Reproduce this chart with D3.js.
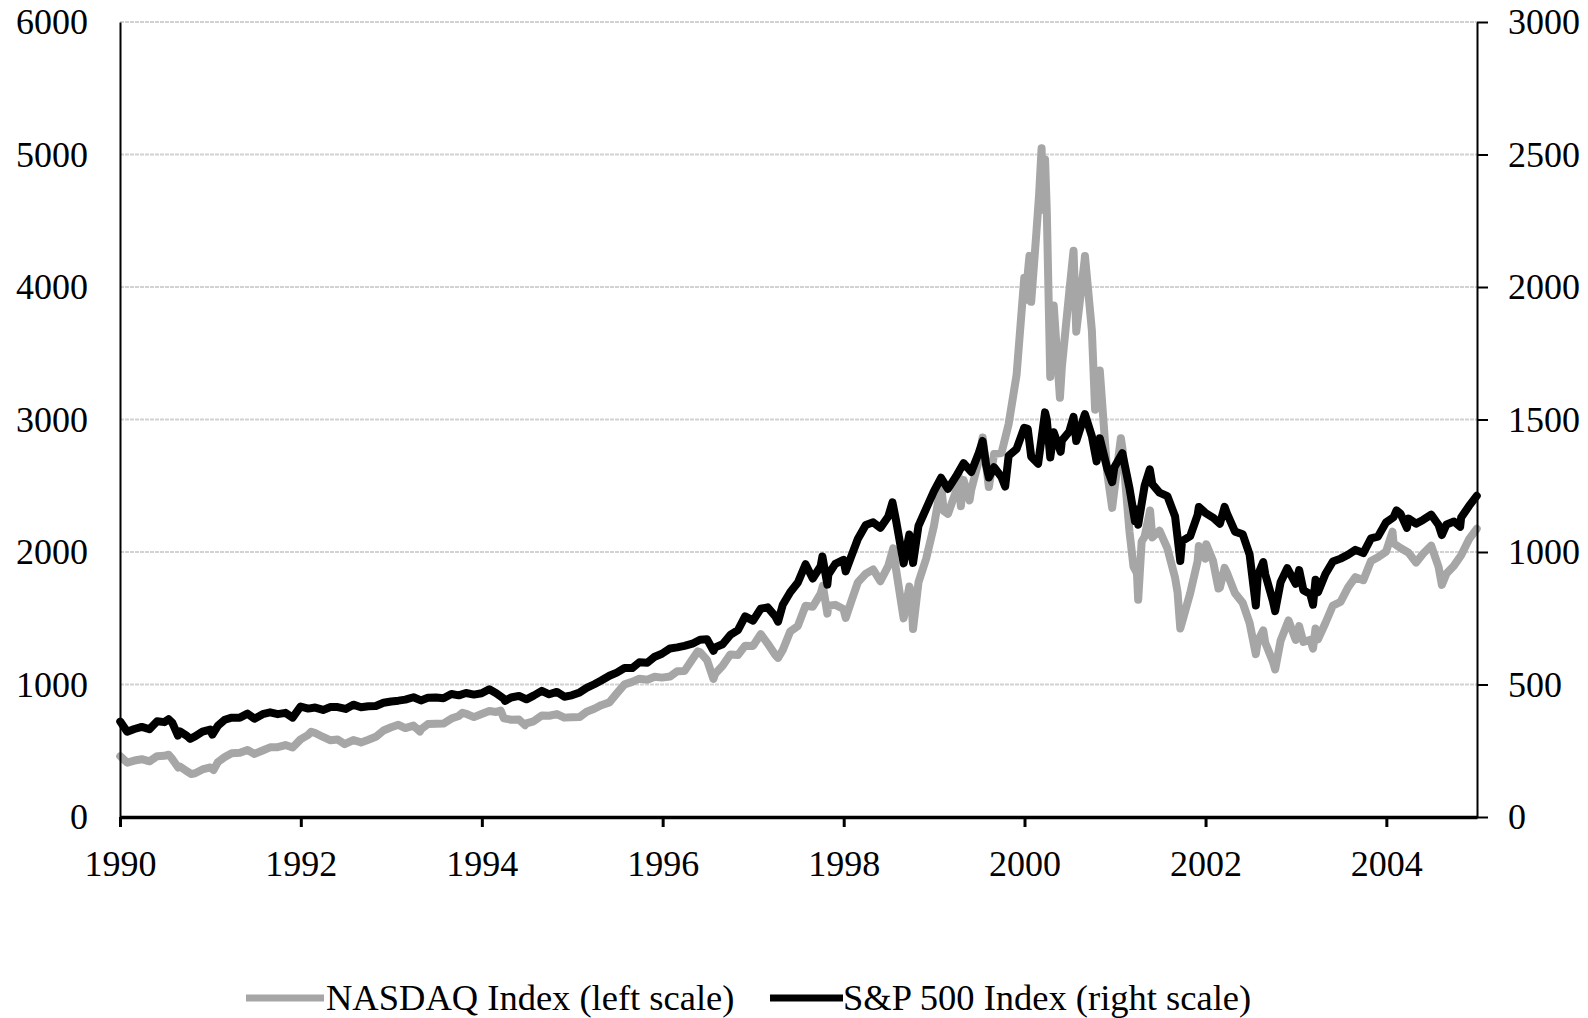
<!DOCTYPE html>
<html>
<head>
<meta charset="utf-8">
<script src="https://cdn.jsdelivr.net/npm/d3@7"></script>
<style>
  html, body { margin: 0; padding: 0; background: #fff; }
  svg { display: block; }
  text { font-family: "Liberation Serif", "Times New Roman", serif; font-size: 36px; fill: #000; }
</style>
</head>
<body>
<svg id="chart" width="1588" height="1018"></svg>
<script>
// ---- Data ----
const xTickYears = [1990, 1992, 1994, 1996, 1998, 2000, 2002, 2004];
const leftTicks = [0, 1000, 2000, 3000, 4000, 5000, 6000];
const rightTicks = [0, 500, 1000, 1500, 2000, 2500, 3000];
const seriesNames = ["NASDAQ Index (left scale)", "S&P 500 Index (right scale)"];

const nasdaq = [
["1990-01-02",459],["1990-01-30",410],["1990-02-28",426],["1990-03-30",436],["1990-04-30",420],["1990-05-31",459],
["1990-06-29",462],["1990-07-16",470],["1990-07-31",438],["1990-08-24",373],["1990-08-31",381],["1990-09-28",345],
["1990-10-16",325],["1990-10-31",330],["1990-11-30",359],["1990-12-31",374],
["1991-01-14",355],["1991-01-31",414],["1991-02-28",453],["1991-03-28",482],["1991-04-30",485],["1991-05-31",506],
["1991-06-28",476],["1991-07-31",502],["1991-08-30",526],["1991-09-30",527],["1991-10-31",543],["1991-11-29",524],["1991-12-31",586],
["1992-01-31",620],["1992-02-12",644],["1992-02-28",634],["1992-03-31",604],["1992-04-30",579],["1992-05-29",585],
["1992-06-26",550],["1992-07-31",581],["1992-08-31",563],["1992-09-30",583],["1992-10-30",605],["1992-11-30",653],["1992-12-31",677],
["1993-01-29",696],["1993-02-26",671],["1993-03-31",690],["1993-04-26",645],["1993-04-30",661],["1993-05-28",701],
["1993-06-30",704],["1993-07-30",705],["1993-08-31",743],["1993-09-30",763],["1993-10-15",787],["1993-10-29",779],
["1993-11-30",754],["1993-12-31",777],
["1994-01-31",800],["1994-02-28",793],["1994-03-18",803],["1994-03-31",744],["1994-04-29",734],["1994-05-31",735],
["1994-06-24",693],["1994-06-30",706],["1994-07-29",722],["1994-08-31",766],["1994-09-30",764],["1994-10-31",777],
["1994-11-30",750],["1994-12-30",752],
["1995-01-31",755],["1995-02-28",794],["1995-03-31",817],["1995-04-28",844],["1995-05-31",865],["1995-06-30",933],
["1995-07-31",1001],["1995-08-31",1020],["1995-09-29",1044],["1995-10-31",1036],["1995-11-30",1059],["1995-12-29",1052],
["1996-01-31",1060],["1996-02-29",1100],["1996-03-29",1101],["1996-04-30",1191],["1996-05-22",1250],["1996-05-31",1243],
["1996-06-28",1185],["1996-07-24",1042],["1996-07-31",1081],["1996-08-30",1141],["1996-09-30",1227],["1996-10-31",1222],
["1996-11-29",1293],["1996-12-31",1291],
["1997-01-31",1380],["1997-02-28",1309],["1997-03-31",1222],["1997-04-11",1201],["1997-04-30",1261],["1997-05-30",1400],
["1997-06-30",1442],["1997-07-31",1594],["1997-08-29",1587],["1997-09-30",1686],["1997-10-09",1745],["1997-10-27",1535],
["1997-10-31",1594],["1997-11-28",1601],["1997-12-31",1570],
["1998-01-09",1503],["1998-01-30",1619],["1998-02-27",1771],["1998-03-31",1836],["1998-04-30",1868],["1998-05-29",1779],
["1998-06-30",1895],["1998-07-20",2028],["1998-07-31",1872],["1998-08-31",1499],["1998-09-23",1740],["1998-09-30",1694],
["1998-10-08",1419],["1998-10-30",1771],["1998-11-30",1950],["1998-12-31",2193],
["1999-01-29",2506],["1999-02-09",2310],["1999-02-26",2288],["1999-03-31",2461],["1999-04-09",2593],["1999-04-19",2345],
["1999-04-30",2543],["1999-05-24",2390],["1999-05-31",2470],["1999-06-30",2686],["1999-07-16",2864],["1999-08-10",2490],
["1999-08-31",2739],["1999-09-30",2746],["1999-10-29",2966],["1999-11-30",3336],["1999-12-31",4069],
["2000-01-04",3901],["2000-01-21",4235],["2000-01-28",3888],["2000-02-18",4411],["2000-02-29",4697],["2000-03-10",5048],
["2000-03-15",4583],["2000-03-24",4963],["2000-03-31",4573],["2000-04-14",3321],["2000-04-20",3643],["2000-04-24",3482],
["2000-04-28",3861],["2000-05-23",3164],["2000-05-31",3401],["2000-06-30",3966],["2000-07-17",4274],["2000-07-28",3663],
["2000-08-31",4206],["2000-09-01",4234],["2000-09-29",3673],["2000-10-12",3074],["2000-10-31",3370],["2000-11-30",2598],
["2000-12-20",2333],["2000-12-29",2471],
["2001-01-24",2859],["2001-01-31",2773],["2001-02-28",2152],["2001-03-16",1890],["2001-03-30",1840],["2001-04-04",1639],
["2001-04-18",2079],["2001-04-30",2116],["2001-05-22",2313],["2001-05-31",2110],["2001-06-29",2161],["2001-07-31",2027],
["2001-08-31",1805],["2001-09-10",1695],["2001-09-21",1423],["2001-10-31",1690],["2001-11-30",1931],["2001-12-05",2046],
["2001-12-31",1950],
["2002-01-04",2059],["2002-01-31",1934],["2002-02-22",1724],["2002-02-28",1731],["2002-03-19",1880],["2002-03-28",1845],
["2002-04-30",1688],["2002-05-31",1616],["2002-06-28",1463],["2002-07-23",1229],["2002-07-31",1328],["2002-08-22",1409],
["2002-08-30",1315],["2002-09-30",1172],["2002-10-09",1114],["2002-10-31",1330],["2002-12-02",1484],["2002-12-31",1336],
["2003-01-14",1440],["2003-01-31",1321],["2003-02-28",1338],["2003-03-11",1271],["2003-03-21",1422],["2003-03-31",1341],
["2003-04-30",1464],["2003-05-30",1596],["2003-06-30",1623],["2003-07-31",1735],["2003-08-29",1810],["2003-09-30",1787],
["2003-10-31",1932],["2003-11-28",1960],["2003-12-31",2003],
["2004-01-26",2153],["2004-01-30",2066],["2004-02-27",2030],["2004-03-31",1994],["2004-04-30",1920],["2004-05-28",1987],
["2004-06-30",2048],["2004-07-30",1887],["2004-08-12",1752],["2004-08-31",1838],["2004-09-30",1897],["2004-10-29",1975],
["2004-11-30",2097],["2004-12-31",2175]
];

const sp500 = [
["1990-01-02",360],["1990-01-30",322],["1990-02-28",332],["1990-03-30",340],["1990-04-30",331],["1990-05-31",361],
["1990-06-29",358],["1990-07-16",369],["1990-07-31",356],["1990-08-23",307],["1990-08-31",323],["1990-09-28",306],
["1990-10-11",295],["1990-10-31",304],["1990-11-30",322],["1990-12-31",330],
["1991-01-09",311],["1991-01-31",344],["1991-02-28",367],["1991-03-28",375],["1991-04-30",375],["1991-05-31",390],
["1991-06-28",371],["1991-07-31",388],["1991-08-30",395],["1991-09-30",388],["1991-10-31",393],["1991-11-29",375],["1991-12-31",417],
["1992-01-31",409],["1992-02-28",413],["1992-03-31",404],["1992-04-30",415],["1992-05-29",415],["1992-06-30",408],
["1992-07-31",424],["1992-08-31",414],["1992-09-30",418],["1992-10-30",419],["1992-11-30",431],["1992-12-31",436],
["1993-01-29",439],["1993-02-26",443],["1993-03-31",452],["1993-04-30",440],["1993-05-28",450],["1993-06-30",451],
["1993-07-30",448],["1993-08-31",464],["1993-09-30",459],["1993-10-29",468],["1993-11-30",462],["1993-12-31",467],
["1994-01-31",482],["1994-02-28",467],["1994-03-31",446],["1994-04-04",438],["1994-04-29",451],["1994-05-31",457],
["1994-06-30",444],["1994-07-29",458],["1994-08-31",476],["1994-09-30",463],["1994-10-31",472],["1994-11-30",454],["1994-12-30",459],
["1995-01-31",470],["1995-02-28",487],["1995-03-31",501],["1995-04-28",515],["1995-05-31",533],["1995-06-30",545],
["1995-07-31",562],["1995-08-31",562],["1995-09-29",584],["1995-10-31",582],["1995-11-30",605],["1995-12-29",616],
["1996-01-31",636],["1996-02-29",640],["1996-03-29",646],["1996-04-30",654],["1996-05-31",669],["1996-06-28",671],
["1996-07-24",627],["1996-07-31",640],["1996-08-30",652],["1996-09-30",687],["1996-10-31",705],["1996-11-29",757],["1996-12-31",741],
["1997-01-31",786],["1997-02-28",791],["1997-03-31",757],["1997-04-11",737],["1997-04-30",801],["1997-05-30",848],
["1997-06-30",885],["1997-07-31",954],["1997-08-29",900],["1997-09-30",947],["1997-10-07",983],["1997-10-27",877],
["1997-10-31",915],["1997-11-28",955],["1997-12-31",970],
["1998-01-09",927],["1998-01-30",980],["1998-02-27",1049],["1998-03-31",1102],["1998-04-30",1112],["1998-05-29",1091],
["1998-06-30",1134],["1998-07-17",1187],["1998-07-31",1121],["1998-08-31",957],["1998-09-23",1066],["1998-09-30",1017],
["1998-10-08",959],["1998-10-30",1099],["1998-11-30",1164],["1998-12-31",1229],
["1999-01-29",1280],["1999-02-26",1238],["1999-03-31",1286],["1999-04-30",1335],["1999-05-31",1302],["1999-06-30",1373],
["1999-07-16",1419],["1999-07-30",1329],["1999-08-10",1281],["1999-08-31",1320],["1999-09-30",1283],["1999-10-15",1247],
["1999-10-29",1363],["1999-11-30",1389],["1999-12-31",1469],
["2000-01-14",1465],["2000-01-28",1360],["2000-02-25",1333],["2000-03-24",1527],["2000-03-31",1499],["2000-04-14",1357],
["2000-04-28",1452],["2000-05-26",1378],["2000-05-31",1421],["2000-06-30",1455],["2000-07-17",1510],["2000-07-28",1419],
["2000-08-31",1518],["2000-09-01",1520],["2000-09-29",1437],["2000-10-18",1342],["2000-10-31",1429],["2000-11-30",1315],
["2000-12-20",1264],["2000-12-29",1320],
["2001-01-30",1373],["2001-02-28",1240],["2001-03-22",1117],["2001-03-30",1160],["2001-04-04",1103],["2001-04-30",1250],
["2001-05-21",1312],["2001-05-31",1256],["2001-06-29",1224],["2001-07-31",1211],["2001-08-31",1134],["2001-09-21",966],
["2001-09-28",1041],["2001-10-31",1060],["2001-11-30",1140],["2001-12-05",1170],["2001-12-31",1148],
["2002-01-31",1130],["2002-02-28",1107],["2002-03-19",1170],["2002-03-28",1147],["2002-04-30",1077],["2002-05-31",1067],
["2002-06-28",990],["2002-07-23",798],["2002-07-31",912],["2002-08-22",962],["2002-08-30",916],["2002-09-30",815],
["2002-10-09",777],["2002-10-31",886],["2002-11-27",939],["2002-12-31",880],
["2003-01-14",932],["2003-01-31",856],["2003-02-28",841],["2003-03-11",801],["2003-03-21",895],["2003-03-31",848],
["2003-04-30",917],["2003-05-30",964],["2003-06-30",975],["2003-07-31",990],["2003-08-29",1008],["2003-09-30",996],
["2003-10-31",1051],["2003-11-28",1058],["2003-12-31",1112],
["2004-01-30",1131],["2004-02-11",1157],["2004-02-27",1145],["2004-03-24",1091],["2004-03-31",1126],["2004-04-30",1107],
["2004-05-28",1121],["2004-06-30",1141],["2004-07-30",1102],["2004-08-12",1064],["2004-08-31",1104],["2004-09-30",1115],
["2004-10-25",1095],["2004-10-29",1130],["2004-11-30",1174],["2004-12-31",1212]
];

(function () {
// ---- Layout ----
const svg = d3.select("#chart");
const plotLeft = 120, plotRight = 1477, plotTop = 22, plotBottom = 817;
const parse = d3.timeParse("%Y-%m-%d");
const fontFam = "'Liberation Serif', 'Times New Roman', serif";

const x = d3.scaleTime()
  .domain([new Date(1990, 0, 1), new Date(2005, 0, 1)])
  .range([plotLeft, plotRight]);
const yL = d3.scaleLinear().domain([0, 6000]).range([plotBottom, plotTop]);
const yR = d3.scaleLinear().domain([0, 3000]).range([plotBottom, plotTop]);

// gridlines
svg.append("g").selectAll("line")
  .data(leftTicks.filter(d => d > 0))
  .join("line")
  .attr("x1", plotLeft).attr("x2", plotRight)
  .attr("y1", d => yL(d)).attr("y2", d => yL(d))
  .attr("stroke", "#d2d2d2").attr("stroke-width", 2)
  .attr("stroke-dasharray", "4,1");

// series lines
const lineL = d3.line().x(d => x(parse(d[0]))).y(d => yL(d[1]));
const lineR = d3.line().x(d => x(parse(d[0]))).y(d => yR(d[1]));

svg.append("path").datum(nasdaq).attr("d", lineL)
  .attr("fill", "none").attr("stroke", "#a6a6a6").attr("stroke-width", 8)
  .attr("stroke-linejoin", "round").attr("stroke-linecap", "round");
svg.append("path").datum(sp500).attr("d", lineR)
  .attr("fill", "none").attr("stroke", "#000").attr("stroke-width", 8)
  .attr("stroke-linejoin", "round").attr("stroke-linecap", "round");

// left axis (no ticks)
const axL = svg.append("g").attr("transform", `translate(${plotLeft},0)`)
  .call(d3.axisLeft(yL).tickValues(leftTicks).tickSize(0).tickPadding(32).tickFormat(d3.format("d")));
axL.select(".domain").attr("stroke", "#000").attr("stroke-width", 2);
axL.selectAll("text").style("font-size", "36px").style("font-family", fontFam).attr("dy", "0.33em");

// right axis
const axR = svg.append("g").attr("transform", `translate(${plotRight},0)`)
  .call(d3.axisRight(yR).tickValues(rightTicks).tickSize(11).tickPadding(20).tickSizeOuter(0).tickFormat(d3.format("d")));
axR.select(".domain").attr("stroke", "#000").attr("stroke-width", 2);
axR.selectAll(".tick line").attr("stroke", "#000").attr("stroke-width", 2);
axR.selectAll("text").style("font-size", "36px").style("font-family", fontFam).attr("dy", "0.33em");

// bottom axis
const axB = svg.append("g").attr("transform", `translate(0,${plotBottom})`)
  .call(d3.axisBottom(x).tickValues(xTickYears.map(yr => new Date(yr, 0, 1)))
    .tickSize(10).tickSizeOuter(0).tickPadding(23).tickFormat(d3.timeFormat("%Y")));
axB.select(".domain").attr("stroke", "#000").attr("stroke-width", 3.5);
axB.selectAll(".tick line").attr("stroke", "#000").attr("stroke-width", 3);
axB.selectAll("text").style("font-size", "36px").style("font-family", fontFam).attr("dy", "0.71em");

// legend
const legend = svg.append("g");
const legendItems = [
  { name: seriesNames[0], color: "#a6a6a6", x1: 246, x2: 324, tx: 326 },
  { name: seriesNames[1], color: "#000", x1: 770, x2: 843, tx: 843 }
];
legendItems.forEach(it => {
  legend.append("line").attr("x1", it.x1).attr("x2", it.x2).attr("y1", 998).attr("y2", 998)
    .attr("stroke", it.color).attr("stroke-width", 7);
  legend.append("text").attr("x", it.tx).attr("y", 1010).style("font-family", fontFam).style("font-size", "36.5px").text(it.name);
});
})();
</script>
</body>
</html>
